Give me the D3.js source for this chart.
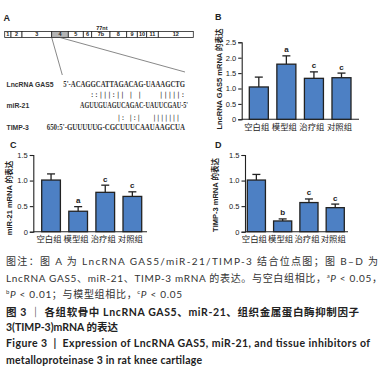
<!DOCTYPE html>
<html>
<head>
<meta charset="utf-8">
<script src="https://cdn.jsdelivr.net/npm/d3@7"></script>
<style>
  html, body { margin: 0; padding: 0; background: #fff; }
  svg { display: block; }
</style>
</head>
<body>
<div id="chart"></div>
<script>
// ---- data ----
const groups = ['空白组', '模型组', '治疗组', '对照组']

const gas5Mean = [1.05, 1.79, 1.33, 1.35]
const gas5Err = [0.32, 0.27, 0.21, 0.15]
const gas5Sig = ['', 'a', 'c', 'c']
const gas5Ticks = [0, 0.5, 1.0, 1.5, 2.0, 2.5]

const mir21Mean = [1.01, 0.4, 0.77, 0.69]
const mir21Err = [0.12, 0.09, 0.14, 0.09]
const mir21Sig = ['', 'a', 'c', 'c']

const timp3Mean = [1.01, 0.21, 0.57, 0.47]
const timp3Err = [0.11, 0.04, 0.07, 0.07]
const timp3Sig = ['', 'b', 'c', 'c']

const exprTicks = [0, 0.5, 1.0, 1.5]

const exonLabels = ['1', '2', '3', '4', '5', '6', '7b', '8', '9', '10', '11', '12']
const exonLengths = [6.3, 11, 29.7, 16.6, 15, 8.4, 18.3, 16.7, 10.6, 9.4, 11.6, 35]
const bindingExon = '4'
const lengthNote = { exon: '7b', text: '77nt' }

const seqNames = ['LncRNA GAS5', 'miR-21', 'TIMP-3']
const seqStrings = [
  "5'-ACAGGCATTAGACAG-UAAAGCTG",
  "AGUUGUAGUCAGAC-UAUUCGAU-5'",
  "650:5'-GUUUUUG-CGCUUUCAAUAAGCUA",
]
const pairStrings = ['::|||:|| | |    |||||:', '|: |:|   |||||||']

// caption segments: sup = superscript letter, it = italic
const captionLines = [
  [{ t: '图注：图 A 为 LncRNA GAS5/miR-21/TIMP-3 结合位点图；图 B–D 为' }],
  [
    { t: 'LncRNA GAS5、miR-21、TIMP-3 mRNA 的表达。与空白组相比，' },
    { t: 'a', sup: true },
    { t: 'P', it: true },
    { t: ' < 0.05，' },
  ],
  [
    { t: 'b', sup: true },
    { t: 'P', it: true },
    { t: ' < 0.01；与模型组相比，' },
    { t: 'c', sup: true },
    { t: 'P', it: true },
    { t: ' < 0.05' },
  ],
  [{ t: '图 3 ｜ 各组软骨中 LncRNA GAS5、miR-21、组织金属蛋白酶抑制因子' }],
  [{ t: '3(TIMP-3)mRNA 的表达' }],
  [{ t: 'Figure 3  |  Expression of LncRNA GAS5, miR-21, and tissue inhibitors of' }],
  [{ t: 'metalloproteinase 3 in rat knee cartilage' }],
]

// ---- layout ----
const width = 383
const height = 379
const chartFont = "'Liberation Sans', Arial, 'Noto Sans CJK SC', sans-serif"
const cjkFont = "'Noto Sans CJK SC', sans-serif"
const capFont = "Lato, 'Noto Sans CJK SC', sans-serif"
const barColor = '#4d80c4'
const ink = '#222'

const svg = d3
  .select('#chart')
  .append('svg')
  .attr('width', width)
  .attr('height', height)
  .attr('viewBox', `0 0 ${width} ${height}`)

function panelLetter(x, y, t) {
  svg
    .append('text')
    .attr('x', x)
    .attr('y', y)
    .text(t)
    .style('font-family', chartFont)
    .style('font-size', '9px')
    .style('font-weight', 'bold')
    .attr('fill', ink)
}

function renderBarPanel({
  means,
  errs,
  sigs,
  ticks,
  yMax,
  barRange,
  axisX,
  axisEnd,
  y0,
  yTop,
  yLabel,
  yLabelX,
  yLabelY,
  catY,
}) {
  const g = svg.append('g')

  const yScale = d3.scaleLinear().domain([0, yMax]).range([y0, yTop])
  const xScale = d3
    .scaleBand()
    .domain(groups)
    .range(barRange)
    .paddingInner(0.31)
    .paddingOuter(0)

  // y axis
  g.append('g')
    .attr('transform', `translate(${axisX}, 0)`)
    .call(
      d3
        .axisLeft(yScale)
        .tickValues(ticks)
        .tickSize(3.5)
        .tickPadding(2)
        .tickFormat(d => (d === 0 ? '0' : d.toFixed(1))),
    )
    .call(a => {
      a.selectAll('.domain').attr('stroke', ink).attr('stroke-width', 1.1)
      a.selectAll('.tick line').attr('stroke', ink).attr('stroke-width', 1.1)
      a.selectAll('.tick text')
        .attr('fill', ink)
        .style('font-family', chartFont)
        .style('font-size', '7.5px')
    })

  // x axis line
  g.append('path')
    .attr('d', d3.line()([[axisX, y0], [axisEnd, y0]]))
    .attr('stroke', ink)
    .attr('stroke-width', 1.1)

  // category labels
  g.append('g')
    .attr('transform', `translate(-2, ${catY})`)
    .call(d3.axisBottom(xScale).tickSize(0).tickPadding(0))
    .call(a => {
      a.select('.domain').remove()
      a.selectAll('.tick text')
        .attr('fill', ink)
        .attr('dy', '0.35em')
        .attr('y', 0)
        .style('font-family', cjkFont)
        .style('font-size', '8.4px')
    })

  const rows = groups.map((k, i) => ({ k, m: means[i], e: errs[i], s: sigs[i] }))

  // error bars (drawn first so bar outline sits on top)
  const eb = g
    .selectAll('g.err')
    .data(rows)
    .join('g')
    .attr('class', 'err')
    .attr('stroke', ink)
    .attr('stroke-width', 1.3)
  eb.append('line')
    .attr('x1', d => xScale(d.k) + xScale.bandwidth() / 2)
    .attr('x2', d => xScale(d.k) + xScale.bandwidth() / 2)
    .attr('y1', d => yScale(d.m))
    .attr('y2', d => yScale(d.m + d.e))
  eb.append('line')
    .attr('x1', d => xScale(d.k) + xScale.bandwidth() / 2 - 4)
    .attr('x2', d => xScale(d.k) + xScale.bandwidth() / 2 + 4)
    .attr('y1', d => yScale(d.m + d.e))
    .attr('y2', d => yScale(d.m + d.e))

  g.selectAll('rect.bar')
    .data(rows)
    .join('rect')
    .attr('class', 'bar')
    .attr('x', d => xScale(d.k))
    .attr('y', d => yScale(d.m))
    .attr('width', xScale.bandwidth())
    .attr('height', d => y0 - yScale(d.m))
    .attr('fill', barColor)
    .attr('stroke', ink)
    .attr('stroke-width', 1.3)

  g.selectAll('text.sig')
    .data(rows.filter(d => d.s))
    .join('text')
    .attr('class', 'sig')
    .attr('x', d => xScale(d.k) + xScale.bandwidth() / 2)
    .attr('y', d => yScale(d.m + d.e) - 3.5)
    .attr('text-anchor', 'middle')
    .text(d => d.s)
    .style('font-family', chartFont)
    .style('font-size', '8px')
    .style('font-weight', 'bold')
    .attr('fill', ink)

  // y label
  g.append('text')
    .attr('transform', `translate(${yLabelX}, ${yLabelY}) rotate(-90)`)
    .attr('text-anchor', 'middle')
    .attr('dominant-baseline', 'central')
    .text(yLabel)
    .style('font-family', chartFont)
    .style('font-size', '7.5px')
    .style('font-weight', 'bold')
    .attr('fill', ink)
}

function renderExonMap() {
  const g = svg.append('g')
  const starts = d3.cumsum([0, ...exonLengths])
  const xScale = d3
    .scaleLinear()
    .domain([0, d3.sum(exonLengths)])
    .range([4.7, 193.3])
  const top = 31.5
  const boxH = 6

  const exons = exonLabels.map((t, i) => ({ t, s: starts[i], len: exonLengths[i] }))

  g.selectAll('rect')
    .data(exons)
    .join('rect')
    .attr('x', d => xScale(d.s))
    .attr('y', top)
    .attr('width', d => xScale(d.s + d.len) - xScale(d.s))
    .attr('height', boxH)
    .attr('fill', d => (d.t === bindingExon ? '#b4b4b4' : '#fff'))
    .attr('stroke', ink)
    .attr('stroke-width', 0.8)

  g.selectAll('text.exon')
    .data(exons)
    .join('text')
    .attr('class', 'exon')
    .attr('x', d => xScale(d.s + d.len / 2))
    .attr('y', top + boxH - 1.2)
    .attr('text-anchor', 'middle')
    .text(d => d.t)
    .style('font-family', chartFont)
    .style('font-size', '5.5px')
    .style('font-weight', 'bold')
    .attr('fill', ink)

  const note = exons.find(d => d.t === lengthNote.exon)
  g.append('text')
    .attr('x', xScale(note.s + note.len / 2) + 1)
    .attr('y', top - 2)
    .attr('text-anchor', 'middle')
    .text(lengthNote.text)
    .style('font-family', chartFont)
    .style('font-size', '5.5px')
    .style('font-weight', 'bold')
    .attr('fill', ink)

  // zoom lines from the binding exon down to the sequence
  const b = exons.find(d => d.t === bindingExon)
  g.append('path')
    .attr('d', d3.line()([[xScale(b.s), top + boxH], [62.3, 75]]))
    .attr('stroke', '#555')
    .attr('stroke-width', 0.7)
    .attr('fill', 'none')
  g.append('path')
    .attr('d', d3.line()([[xScale(b.s + b.len * 0.5), top + boxH], [185, 72]]))
    .attr('stroke', '#555')
    .attr('stroke-width', 0.7)
    .attr('fill', 'none')
}

function renderAlignment() {
  const g = svg.append('g')
  const rowY = [86.5, 107.5, 129.5]
  const seqSpan = [
    [63.3, 185],
    [80, 188],
    [46.7, 185],
  ]
  const pairY = [96.5, 119.5]
  const pairSpan = [
    [90, 185],
    [117, 180],
  ]

  seqNames.forEach((name, i) => {
    g.append('text')
      .attr('x', 6.5)
      .attr('y', rowY[i])
      .text(name)
      .style('font-family', chartFont)
      .style('font-size', '6.8px')
      .style('font-weight', 'bold')
      .attr('fill', '#333')
    g.append('text')
      .attr('x', seqSpan[i][0])
      .attr('y', rowY[i])
      .attr('textLength', seqSpan[i][1] - seqSpan[i][0])
      .attr('lengthAdjust', 'spacingAndGlyphs')
      .text(seqStrings[i])
      .style('font-family', "'Liberation Serif', serif")
      .style('font-size', '7.5px')
      .style('font-weight', 'bold')
      .attr('fill', '#333')
  })

  pairStrings.forEach((p, i) => {
    g.append('text')
      .attr('x', pairSpan[i][0])
      .attr('y', pairY[i])
      .attr('textLength', pairSpan[i][1] - pairSpan[i][0])
      .attr('lengthAdjust', 'spacingAndGlyphs')
      .style('white-space', 'pre')
      .text(p)
      .style('font-family', "'DejaVu Sans Mono', monospace")
      .style('font-size', '7px')
      .attr('fill', '#333')
  })
}

function renderCaption() {
  const g = svg.append('g')
  const lineY = [265, 281.5, 298, 315.5, 331, 347, 363.5]
  const lineW = [372, 376, 176, 353, 112, 364, 196]
  const bold = [false, false, false, true, true, true, true]
  const supShift = 4

  captionLines.forEach((segs, i) => {
    const t = g
      .append('text')
      .attr('x', 6)
      .attr('y', lineY[i])
      .attr('textLength', lineW[i])
      .attr('lengthAdjust', 'spacing')
      .style('font-family', capFont)
      .style('font-size', bold[i] ? '10.5px' : '10px')
      .style('font-weight', bold[i] ? 'bold' : 'normal')
      .attr('fill', bold[i] ? '#222' : '#333')
      .style('white-space', 'pre')
    let raised = false
    segs.forEach(s => {
      const span = t.append('tspan').text(s.t)
      if (s.sup) {
        span.attr('dy', raised ? 0 : -supShift).style('font-size', '6px')
        raised = true
      } else {
        if (raised) span.attr('dy', supShift)
        raised = false
        span.style('font-style', s.it ? 'italic' : 'normal')
      }
    })
  })
}

panelLetter(3.5, 20.5, 'A')
panelLetter(215, 20, 'B')
panelLetter(10, 148, 'C')
panelLetter(215, 148, 'D')

renderExonMap()
renderAlignment()

renderBarPanel({
  means: gas5Mean,
  errs: gas5Err,
  sigs: gas5Sig,
  ticks: gas5Ticks,
  yMax: 2.5,
  barRange: [249.3, 351],
  axisX: 241.7,
  axisEnd: 359,
  y0: 119.3,
  yTop: 42.3,
  yLabel: 'LncRNA GAS5 mRNA 的表达',
  yLabelX: 219,
  yLabelY: 79,
  catY: 127,
})

renderBarPanel({
  means: mir21Mean,
  errs: mir21Err,
  sigs: mir21Sig,
  ticks: exprTicks,
  yMax: 1.5,
  barRange: [41.7, 141.7],
  axisX: 33.3,
  axisEnd: 147,
  y0: 231.7,
  yTop: 155,
  yLabel: 'miR-21 mRNA 的表达',
  yLabelX: 9.3,
  yLabelY: 198,
  catY: 239,
})

renderBarPanel({
  means: timp3Mean,
  errs: timp3Err,
  sigs: timp3Sig,
  ticks: exprTicks,
  yMax: 1.5,
  barRange: [247.3, 344.3],
  axisX: 245,
  axisEnd: 348,
  y0: 231.7,
  yTop: 155,
  yLabel: 'TIMP-3 mRNA 的表达',
  yLabelX: 215.7,
  yLabelY: 195,
  catY: 239,
})

renderCaption()
</script>
</body>
</html>
